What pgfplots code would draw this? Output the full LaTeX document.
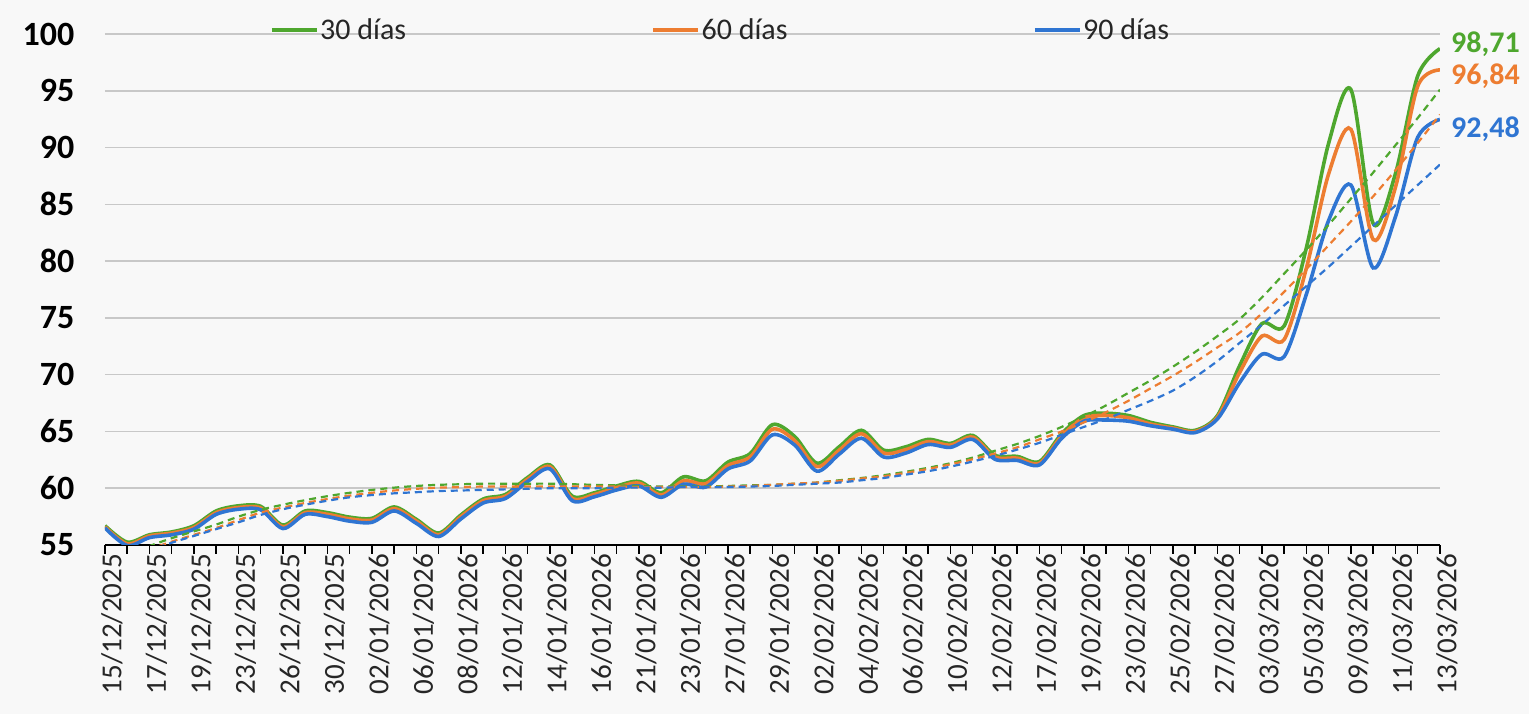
\documentclass[border=0pt]{standalone}
\usepackage{fontspec}
\setmainfont{Carlito}
\usepackage{pgfplots}
\usepackage{pgfplotstable}
\pgfplotsset{compat=1.18}
\definecolor{cG}{RGB}{78,167,46}
\definecolor{cO}{RGB}{237,125,49}
\definecolor{cB}{RGB}{47,117,210}
\definecolor{bg}{RGB}{248,248,248}
\definecolor{gridc}{RGB}{200,200,200}
\definecolor{txt}{RGB}{38,38,38}
\pgfplotstableread{
i G O B GT OT BT
0 56.7 56.6 56.5 53.0 52.7 52.3
1 55.25 55.1 54.95 54.0 53.7 53.5
2 55.9 55.8 55.65 54.9 54.6 54.5
3 56.15 56.05 55.9 55.6 55.3 55.2
4 56.7 56.55 56.4 56.2 55.9 55.8
5 58.0 57.85 57.7 56.8 56.5 56.4
6 58.45 58.3 58.15 57.5 57.2 57.0
7 58.4 58.25 58.1 58.1 57.85 57.65
8 56.75 56.6 56.45 58.55 58.3 58.15
9 58.0 57.85 57.7 58.95 58.7 58.55
10 57.85 57.7 57.5 59.3 59.05 58.9
11 57.45 57.3 57.1 59.6 59.35 59.2
12 57.35 57.2 57.0 59.85 59.6 59.4
13 58.35 58.2 58.0 60.05 59.8 59.55
14 57.25 57.1 56.9 60.2 59.95 59.65
15 56.05 55.9 55.75 60.3 60.05 59.75
16 57.65 57.5 57.3 60.35 60.1 59.8
17 59.05 58.9 58.7 60.4 60.15 59.85
18 59.45 59.3 59.1 60.4 60.15 59.9
19 60.95 60.8 60.6 60.4 60.15 59.95
20 62.05 61.9 61.7 60.4 60.15 60.0
21 59.3 59.1 58.9 60.35 60.15 60.0
22 59.6 59.45 59.25 60.3 60.15 60.0
23 60.2 60.05 59.85 60.25 60.15 60.05
24 60.6 60.45 60.2 60.2 60.1 60.05
25 59.6 59.4 59.2 60.15 60.1 60.05
26 61.0 60.65 60.35 60.15 60.1 60.1
27 60.65 60.4 60.1 60.15 60.1 60.1
28 62.3 62.0 61.7 60.2 60.15 60.1
29 63.05 62.75 62.4 60.25 60.2 60.15
30 65.6 65.2 64.7 60.3 60.3 60.2
31 64.55 64.2 63.8 60.4 60.4 60.3
32 62.2 61.9 61.5 60.5 60.5 60.4
33 63.65 63.35 63.0 60.7 60.65 60.5
34 65.1 64.8 64.4 60.9 60.85 60.7
35 63.35 63.1 62.75 61.15 61.05 60.9
36 63.65 63.4 63.1 61.45 61.35 61.2
37 64.3 64.1 63.85 61.8 61.7 61.5
38 63.95 63.8 63.6 62.2 62.1 61.9
39 64.65 64.5 64.3 62.7 62.55 62.35
40 62.9 62.75 62.55 63.3 63.05 62.85
41 62.8 62.65 62.45 63.9 63.6 63.4
42 62.35 62.2 62.05 64.6 64.3 64.0
43 64.8 64.6 64.4 65.4 65.0 64.7
44 66.4 66.2 65.9 66.3 65.8 65.4
45 66.6 66.4 66.0 67.3 66.7 66.1
46 66.4 66.2 65.9 68.4 67.7 66.9
47 65.8 65.65 65.5 69.5 68.8 67.7
48 65.4 65.3 65.2 70.7 69.9 68.6
49 65.1 65.0 64.9 72.0 71.1 69.8
50 66.4 66.25 66.1 73.4 72.4 71.2
51 70.8 70.2 69.3 74.9 73.7 72.8
52 74.5 73.4 71.8 76.8 75.4 74.4
53 74.3 73.1 71.6 78.9 77.3 76.1
54 81.2 79.4 77.1 81.0 79.3 77.8
55 90.4 87.7 83.6 83.2 81.4 79.5
56 95.1 91.6 86.7 85.5 83.5 81.3
57 83.3 81.9 79.4 87.8 85.7 83.1
58 87.7 86.5 83.9 90.2 88.0 84.9
59 96.3 95.4 90.9 92.6 90.4 86.7
60 98.71 96.84 92.48 95.1 92.9 88.5
}\data
\begin{document}
\begin{tikzpicture}
\path[use as bounding box, fill=bg] (-105pt,-169pt) rectangle (1424pt,545pt);
\begin{axis}[
 at={(0pt,0pt)}, anchor=south west,
 scale only axis, width=1335pt, height=511pt,
 xmin=0, xmax=60, ymin=55, ymax=100,
 axis x line=bottom, axis y line=left,
 x axis line style={-, line width=1.5pt, black},
 y axis line style={draw=none},
 xtick={0,...,60},
 xticklabels={15/12/2025,,17/12/2025,,19/12/2025,,23/12/2025,,26/12/2025,,30/12/2025,,02/01/2026,,06/01/2026,,08/01/2026,,12/01/2026,,14/01/2026,,16/01/2026,,21/01/2026,,23/01/2026,,27/01/2026,,29/01/2026,,02/02/2026,,04/02/2026,,06/02/2026,,10/02/2026,,12/02/2026,,17/02/2026,,19/02/2026,,23/02/2026,,25/02/2026,,27/02/2026,,03/03/2026,,05/03/2026,,09/03/2026,,11/03/2026,,13/03/2026},
 xtick align=outside, major tick length=9pt,
 xtick style={line width=1.5pt, black},
 ytick={55,60,...,100},
 ytick style={draw=none},
 ymajorgrids, grid style={gridc, line width=1.5pt},
 /pgf/number format/assume math mode=true,
 yticklabel style={font=\fontsize{34}{40}\selectfont\bfseries, text=black, inner sep=0pt, anchor=east, xshift=-26pt},
 xticklabel style={font=\fontsize{29}{34}\selectfont, text=txt, rotate=90, anchor=east, inner sep=0pt, yshift=-7pt},
 clip mode=individual,
 legend columns=3,
 legend style={at={(0.1236,1.0078)}, anchor=west, draw=none, fill=none, inner sep=0pt,
   font=\fontsize{30}{36}\selectfont, text=txt,
   nodes={inner sep=1.5pt},
   /tikz/every even column/.append style={column sep=244pt}},
 legend image code/.code={\draw[#1, line width=3.5pt] (-2pt,0pt) -- (43pt,0pt);},
]
\addplot[cG, line width=3.6pt, smooth] table[x=i,y=G]{\data};
\addlegendentry{30 días}
\addplot[cO, line width=3.6pt, smooth] table[x=i,y=O]{\data};
\addlegendentry{60 días}
\addplot[cB, line width=3.6pt, smooth] table[x=i,y=B]{\data};
\addlegendentry{90 días}
\addplot[cG, line width=2.2pt, dash pattern=on 7pt off 5pt, smooth, forget plot] table[x=i,y=GT]{\data};
\addplot[cO, line width=2.2pt, dash pattern=on 7pt off 5pt, smooth, forget plot] table[x=i,y=OT]{\data};
\addplot[cB, line width=2.2pt, dash pattern=on 7pt off 5pt, smooth, forget plot] table[x=i,y=BT]{\data};
\node[anchor=west, xshift=11pt, inner sep=0pt, text=cG, font=\fontsize{30}{34}\selectfont\bfseries] at (axis cs:60,99.1) {98,71};
\node[anchor=west, xshift=11pt, inner sep=0pt, text=cO, font=\fontsize{30}{34}\selectfont\bfseries] at (axis cs:60,96.3) {96,84};
\node[anchor=west, xshift=11pt, inner sep=0pt, text=cB, font=\fontsize{30}{34}\selectfont\bfseries] at (axis cs:60,91.6) {92,48};
\end{axis}
\end{tikzpicture}
\end{document}
